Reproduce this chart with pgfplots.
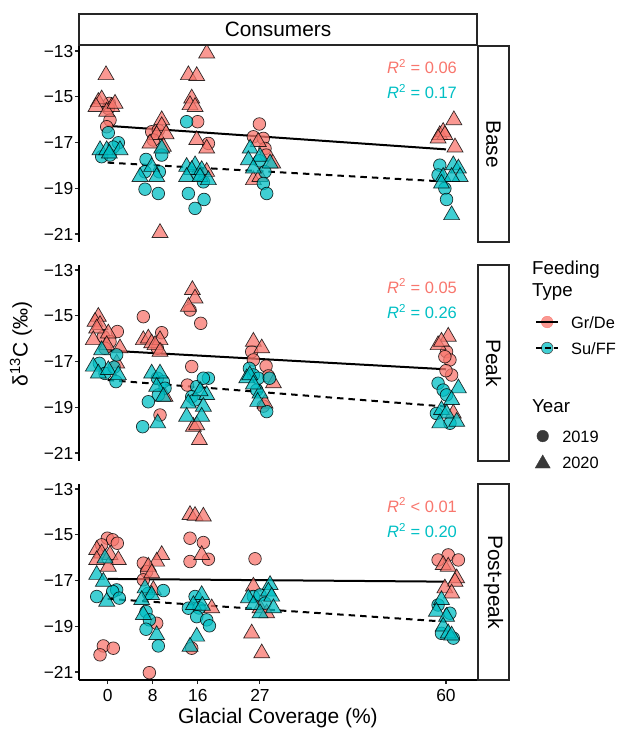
\documentclass[border=0pt]{standalone}
\usepackage{fontspec}
\setmainfont{Liberation Sans}
\usepackage{pgfplots}
\pgfplotsset{compat=1.18}
\definecolor{gd}{HTML}{F8766D}
\definecolor{su}{HTML}{00BFC4}
\newcommand\tickfont{\fontsize{17.4}{20}\selectfont}
\newcommand\stripfont{\fontsize{20.8}{24}\selectfont}
\newcommand\titlefont{\fontsize{21}{24}\selectfont}
\newcommand\legtitlefont{\fontsize{18.7}{21.7}\selectfont}
\newcommand\legfont{\fontsize{16.4}{19}\selectfont}
\newcommand\rfont{\fontsize{16.5}{19}\selectfont}
\pgfplotsset{
  panel/.style={scale only axis, width=398pt, height=196pt, anchor=south west,
    xmin=-5.09, xmax=65.5, ymin=-21.35, ymax=-12.78,
    axis y line*=left,
    ytick={-21,-19,-17,-15,-13}, yticklabels={−21,−19,−17,−15,−13},
    tick align=outside, major tick length=4pt,
    tick style={black!85, line width=1.1pt},
    axis line style={black, line width=1.1pt, -},
    yticklabel style={font=\tickfont, inner sep=0pt, xshift=-1.5pt},
    xticklabel style={font=\tickfont, inner sep=0pt, yshift=-5pt},
  },
  gdc/.style={only marks, forget plot, mark=*, mark size=6.3pt, mark options={fill=gd, fill opacity=0.75, draw=black, draw opacity=0.8, line width=0.7pt}},
  gdt/.style={only marks, forget plot, mark=triangle*, mark size=9.2pt, mark options={fill=gd, fill opacity=0.75, draw=black, draw opacity=0.8, line width=0.7pt}},
  suc/.style={only marks, forget plot, mark=*, mark size=6.3pt, mark options={fill=su, fill opacity=0.75, draw=black, draw opacity=0.8, line width=0.7pt}},
  sut/.style={only marks, forget plot, mark=triangle*, mark size=9.2pt, mark options={fill=su, fill opacity=0.75, draw=black, draw opacity=0.8, line width=0.7pt}},
  gdline/.style={forget plot, black, line width=2pt},
  suline/.style={forget plot, black, line width=2pt, dash pattern=on 6.5pt off 5pt},
}
\begin{document}
\begin{tikzpicture}
\useasboundingbox (0pt,0pt) rectangle (622pt,729pt);

% ---------------- Panel 1: Base ----------------
\begin{axis}[panel, at={(79pt,487pt)}, axis x line=none, xtick=\empty]
\addplot[gdc] table {
0.29 -15.29
0.11 -15.51
0.41 -16.02
-0.18 -16.31
7.8 -16.53
8.98 -16.46
8.1 -16.89
15.96 -16.09
17.86 -17.04
26.9 -16.19
25.84 -16.75
27.6 -16.82
27.9 -17.26
28.1 -17.55
};
\addplot[gdt] table {
-0.3 -14.05
-1.66 -15.22
-1.07 -15.11
-2.07 -15.44
0.7 -15.44
-0.18 -15.65
1.3 -15.3
9.58 -16.02
9.58 -16.28
8.69 -16.67
10.35 -16.63
7.5 -17.04
9.87 -17.18
9.28 -20.95
17.56 -13.10
14.31 -14.05
15.79 -14.09
14.9 -15.07
14.6 -15.36
15.5 -15.44
15.79 -16.89
17.56 -17.26
17.56 -18.28
26.7 -16.97
29.27 -17.91
25.84 -18.64
27.0 -18.5
61.4 -16.02
58.9 -16.67
59.5 -16.53
59.8 -16.67
58.6 -16.82
61.6 -17.21
};
\addplot[suc] table {
0.11 -16.57
1.89 -17.01
-1.07 -17.62
0.41 -17.55
1.0 -17.2
6.8 -17.74
9.58 -17.55
6.62 -18.28
9.16 -18.28
6.62 -19.04
8.98 -19.23
14.0 -16.09
16.97 -18.72
14.31 -19.23
17.09 -19.49
15.49 -19.88
16.0 -18.4
26.9 -17.8
27.9 -18.28
27.6 -18.79
28.2 -19.23
58.9 -17.99
58.6 -18.42
59.8 -19.01
60.1 -19.49
};
\addplot[sut] table {
-1.36 -17.33
-0.18 -17.33
2.18 -17.33
0.29 -17.48
9.58 -17.26
7.8 -18.06
5.73 -18.5
8.69 -18.5
14.0 -18.06
15.5 -17.99
14.9 -18.2
16.67 -18.2
14.0 -18.5
16.38 -18.5
17.86 -18.64
25.27 -17.26
27.02 -17.62
24.95 -17.77
28.8 -17.91
25.84 -18.13
61.3 -17.99
62.2 -18.13
59.5 -18.5
62.5 -18.5
61.0 -18.5
59.2 -18.79
61.0 -20.17
};
\addplot[gdline] coordinates {(0,-16.27) (60,-17.30)};
\addplot[suline] coordinates {(0,-17.88) (60,-18.71)};
\node[anchor=east, text=gd, font=\rfont, inner sep=0pt] at (rel axis cs:0.95,0.894) {\textit{R}\textsuperscript{2} = 0.06};
\node[anchor=east, text=su, font=\rfont, inner sep=0pt] at (rel axis cs:0.95,0.767) {\textit{R}\textsuperscript{2} = 0.17};
\end{axis}

% ---------------- Panel 2: Peak ----------------
\begin{axis}[panel, at={(79pt,268pt)}, axis x line=none, xtick=\empty,
  legend style={at={(axis description cs:1.1457,0.756)}, anchor=north west, draw=none, fill=none,
    inner sep=0pt, row sep=8pt, column sep=12pt,
    nodes={inner sep=0pt, font=\legfont, text height=15pt, text depth=3pt}},
  legend cell align=left]
\addlegendimage{legend image code/.code={\fill[gd, fill opacity=0.75] (11pt,0pt) circle (5.8pt); \draw[black, line width=2pt] (0pt,0pt) -- (22pt,0pt);}}
\addlegendentry{Gr/De}
\addlegendimage{legend image code/.code={\filldraw[fill=su, fill opacity=0.75, draw=black!70, line width=0.6pt] (11pt,0pt) circle (5.8pt); \draw[black, line width=2pt, dash pattern=on 6pt off 3pt] (0pt,0pt) -- (22pt,0pt);}}
\addlegendentry{Su/FF}
\addplot[gdc] table {
1.71 -15.69
-0.77 -15.91
0.41 -16.13
-0.48 -16.42
6.32 -15.04
9.58 -15.74
8.81 -16.42
9.28 -19.34
14.6 -14.75
16.5 -15.33
14.9 -17.22
14.13 -18.03
25.54 -16.57
25.84 -16.93
28.09 -17.2
28.5 -17.63
27.6 -18.95
60.1 -16.57
60.7 -16.93
59.8 -16.79
61.0 -17.59
60.0 -17.4
};
\addplot[gdt] table {
-1.66 -15.04
-2.25 -15.26
-1.36 -15.4
-1.95 -15.55
0.11 -15.77
-2.55 -16.06
-0.18 -16.28
2.18 -16.42
1.6 -17.08
6.32 -16.06
7.21 -15.99
7.8 -16.2
9.28 -16.06
8.39 -16.28
9.28 -16.57
10.17 -18.54
15.02 -13.87
15.49 -14.24
14.31 -14.6
15.2 -19.85
15.79 -19.78
16.26 -20.43
25.84 -16.13
27.32 -16.42
29.4 -17.95
27.9 -18.83
60.4 -15.91
58.6 -16.28
59.2 -16.13
61.3 -19.27
};
\addplot[suc] table {
1.59 -16.71
-1.48 -17.08
-0.48 -17.52
1.12 -17.25
1.47 -17.88
8.81 -17.73
9.87 -17.88
10.17 -18.17
8.98 -18.46
7.21 -18.76
6.2 -19.85
15.79 -18.1
17.86 -17.73
16.97 -17.73
14.9 -18.54
15.49 -18.68
25.13 -17.3
25.84 -17.59
26.7 -17.73
28.7 -17.73
26.43 -18.25
28.2 -19.19
58.6 -17.95
59.5 -18.25
60.1 -18.46
58.3 -19.27
60.7 -19.7
};
\addplot[sut] table {
-1.07 -16.5
-2.55 -17.22
-1.66 -17.52
0.11 -17.37
1.89 -17.59
7.8 -17.52
9.28 -17.52
8.69 -18.1
9.87 -18.54
8.87 -19.7
17.56 -18.46
14.31 -18.83
16.97 -18.97
14.0 -19.41
16.67 -19.41
16.4 -18.3
24.66 -17.73
25.2 -17.6
27.02 -18.39
26.6 -18.76
25.84 -18.0
62.2 -18.17
61.0 -18.68
59.2 -19.12
60.1 -19.27
61.9 -19.63
58.9 -19.7
};
\addplot[gdline] coordinates {(0,-16.52) (60,-17.34)};
\addplot[suline] coordinates {(0,-17.81) (60,-18.97)};
\node[anchor=east, text=gd, font=\rfont, inner sep=0pt] at (rel axis cs:0.95,0.893) {\textit{R}\textsuperscript{2} = 0.05};
\node[anchor=east, text=su, font=\rfont, inner sep=0pt] at (rel axis cs:0.95,0.762) {\textit{R}\textsuperscript{2} = 0.26};
\end{axis}

% ---------------- Panel 3: Post-peak ----------------
\begin{axis}[panel, at={(79pt,49pt)}, axis x line*=bottom,
  xtick={0,8,16,27,60}, xticklabels={0,8,16,27,60},
  legend style={at={(axis description cs:1.1457,1.2915)}, anchor=north west, draw=none, fill=none,
    inner sep=0pt, row sep=8pt, column sep=12pt,
    nodes={inner sep=0pt, font=\legfont, text height=15pt, text depth=3pt}},
  legend cell align=left]
\addlegendimage{legend image code/.code={\fill[black!78] (11pt,0pt) circle (5.8pt);}}
\addlegendentry{2019}
\addlegendimage{legend image code/.code={\draw[mark=triangle*, mark size=8.7pt, mark options={fill=black!78, draw=black!78}] plot coordinates {(11pt,-1.6pt)};}}
\addlegendentry{2020}
\addplot[gdc] table {
-0.06 -15.15
0.88 -15.22
1.71 -15.37
-1.07 -15.44
-0.77 -19.86
1.0 -19.96
-1.36 -20.25
6.32 -16.24
6.91 -16.61
6.32 -16.97
8.69 -18.87
7.39 -21.03
14.6 -15.15
16.97 -15.34
14.6 -16.17
17.86 -16.07
14.9 -19.96
26.13 -16.05
58.6 -16.1
60.4 -15.88
62.2 -16.1
};
\addplot[gdt] table {
-1.95 -15.66
-1.07 -15.81
0.41 -15.88
1.89 -16.1
-1.95 -16.1
0.11 -16.39
9.58 -15.88
8.69 -16.17
7.21 -16.39
7.8 -16.68
8.1 -17.41
14.6 -14.13
15.49 -14.17
16.97 -14.2
16.67 -15.88
18.45 -18.21
25.84 -17.26
27.02 -18.21
28.2 -18.43
25.54 -19.31
27.32 -20.18
59.5 -16.32
60.4 -16.39
61.9 -16.9
61.6 -17.05
59.8 -17.34
61.0 -17.56
};
\addplot[suc] table {
1.59 -17.41
0.88 -17.48
2.06 -17.77
-1.95 -17.7
7.21 -17.56
9.87 -17.44
6.8 -18.36
7.39 -18.72
6.8 -19.13
8.98 -19.86
15.5 -17.7
14.31 -18.21
16.2 -18.2
15.79 -18.58
17.56 -18.72
18.04 -18.98
25.84 -17.7
27.02 -17.63
27.9 -17.99
58.6 -18.07
60.7 -18.43
59.2 -19.31
61.3 -19.52
};
\addplot[sut] table {
-0.48 -16.03
-1.95 -16.75
-0.77 -17.05
-0.18 -17.92
6.62 -17.34
7.8 -17.63
6.03 -17.85
6.32 -18.5
8.69 -19.38
16.67 -17.63
15.2 -18.07
16.8 -18.1
15.79 -19.45
14.6 -19.89
28.8 -17.19
28.5 -17.48
24.95 -17.77
29.09 -17.7
25.84 -18.07
29.4 -18.21
27.02 -18.43
59.2 -17.85
58.3 -18.36
60.1 -18.58
59.5 -19.01
60.4 -19.31
61.0 -19.4
};
\addplot[gdline] coordinates {(0,-16.93) (60,-17.05)};
\addplot[suline] coordinates {(0,-17.80) (60,-18.80)};
\node[anchor=east, text=gd, font=\rfont, inner sep=0pt] at (rel axis cs:0.95,0.893) {\textit{R}\textsuperscript{2} < 0.01};
\node[anchor=east, text=su, font=\rfont, inner sep=0pt] at (rel axis cs:0.95,0.762) {\textit{R}\textsuperscript{2} = 0.20};
\end{axis}

% ---------------- strips ----------------
\draw[black!85, line width=1.2pt, fill=white] (79pt,684pt) rectangle (477pt,715pt);
\node[font=\stripfont] at (278pt,699.5pt) {Consumers};
\draw[black!85, line width=1.2pt, fill=white] (478pt,487pt) rectangle (509pt,683pt);
\node[font=\stripfont, rotate=-90] at (493.5pt,585pt) {Base};
\draw[black!85, line width=1.2pt, fill=white] (478pt,268pt) rectangle (509pt,464pt);
\node[font=\stripfont, rotate=-90] at (493.5pt,366pt) {Peak};
\draw[black!85, line width=1.2pt, fill=white] (478pt,49pt) rectangle (509pt,245pt);
\node[font=\stripfont, rotate=-90] at (493.5pt,147pt) {Post-peak};

% ---------------- axis titles ----------------
\node[font=\titlefont, anchor=base] at (278pt,5.5pt) {Glacial Coverage (\%)};
\node[font=\titlefont, rotate=90] at (21pt,385pt) {δ\textsuperscript{13}C (‰)};

% ---------------- legend titles ----------------
\node[font=\legtitlefont, anchor=base west, inner sep=0pt] at (532pt,454pt) {Feeding};
\node[font=\legtitlefont, anchor=base west, inner sep=0pt] at (532pt,432.3pt) {Type};
\node[font=\legtitlefont, anchor=base west, inner sep=0pt] at (532pt,316.3pt) {Year};
\end{tikzpicture}
\end{document}
